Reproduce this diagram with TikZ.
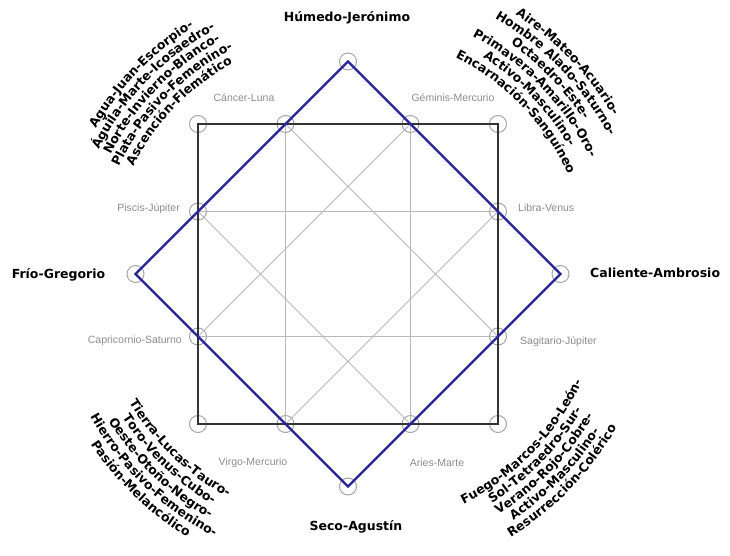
\documentclass[tikz,border=0pt]{standalone}
\usepackage{fontspec}
\usepackage{tikz}
\usepackage{xcolor}
\usetikzlibrary{decorations.text}

\newfontfamily\heavyfont{DejaVu Sans}
\newfontfamily\signfont{Liberation Sans}

\definecolor{diamondblue}{RGB}{35,35,165}
\definecolor{ringgray}{RGB}{165,165,165}
\definecolor{linegray}{RGB}{185,185,185}
\definecolor{signgray}{RGB}{140,140,140}

\newcommand{\arcfont}{\heavyfont\bfseries\fontsize{12.5}{15}\selectfont}
% text on the outside of an arc, read clockwise
\newcommand{\arctextout}[3]{%
  \path[decorate, decoration={text along path, text align=center, text={|\arcfont|#3}}]
    (#1+40:#2) arc[start angle=#1+40, end angle=#1-40, radius=#2];}
% text on the inside of an arc, read counterclockwise
\newcommand{\arctextin}[3]{%
  \path[decorate, decoration={text along path, text align=center, text={|\arcfont|#3}}]
    (#1-40:#2) arc[start angle=#1-40, end angle=#1+40, radius=#2];}

\begin{document}
\begin{tikzpicture}[x=1pt, y=1pt,
    ring/.style={circle, draw=ringgray, line width=1pt, minimum size=17pt, inner sep=0pt},
    gridline/.style={draw=linegray, line width=0.9pt},
    frame/.style={draw=black!80, line width=1.8pt},
    rhomb/.style={draw=diamondblue, line width=2.4pt, line join=miter},
    sign/.style={text=signgray, inner sep=0pt, font=\signfont\fontsize{10.5}{12}\selectfont},
    season/.style={inner sep=0pt, font=\heavyfont\bfseries\fontsize{12.5}{15}\selectfont}]

    \useasboundingbox (-348,-282) rectangle (382,274);

    % Draw rings at the corners, crossings and tips
    \foreach \name/\x/\y in {sqNW/-150/150, sqNE/150/150, sqSE/150/-150, sqSW/-150/-150,
        cancer/-62.5/150, geminis/62.5/150, libra/150/62.5, sagitario/150/-62.5,
        aries/62.5/-150, virgo/-62.5/-150, capricornio/-150/-62.5, piscis/-150/62.5,
        humedo/0/212.5, caliente/212.5/0, seco/0/-212.5, frio/-212.5/0}
    {
        \node[ring] (\name) at (\x,\y) {};
    }

    % Grey lines between the crossings
    \foreach \a/\b in {cancer/virgo, geminis/aries, piscis/libra, capricornio/sagitario,
        cancer/sagitario, geminis/capricornio, piscis/aries, libra/virgo}
    {
        \draw[gridline] (\a.center) -- (\b.center);
    }

    % Square and diamond
    \draw[frame] (sqNW.center) -- (sqNE.center) -- (sqSE.center) -- (sqSW.center) -- cycle;
    \draw[rhomb] (humedo.center) -- (caliente.center) -- (seco.center) -- (frio.center) -- cycle;

    % Sign labels
    \node[sign] (cancerLabel) at (-104,176) {Cáncer-Luna};
    \node[sign] (geminisLabel) at (105,176) {Géminis-Mercurio};
    \node[sign, anchor=east] (piscisLabel) at (-168,65) {Piscis-Júpiter};
    \node[sign, anchor=east] (capricornioLabel) at (-166,-67) {Capricornio-Saturno};
    \node[sign, anchor=west] (libraLabel) at (170,66) {Libra-Venus};
    \node[sign, anchor=west] (sagitarioLabel) at (172,-68) {Sagitario-Júpiter};
    \node[sign] (virgoLabel) at (-95,-189) {Virgo-Mercurio};
    \node[sign] (ariesLabel) at (89,-189) {Aries-Marte};

    % Season labels
    \node[season] (humedoLabel) at (-1,256) {Húmedo-Jerónimo};
    \node[season] (secoLabel) at (8,-253) {Seco-Agustín};
    \node[season] (frioLabel) at (-289.5,-1) {Frío-Gregorio};
    \node[season, anchor=west] (calienteLabel) at (242,1) {Caliente-Ambrosio};

    % Arched texts, upper left
    \arctextout{136}{291}{Agua-Juan-Escorpio-}
    \arctextout{136}{278.25}{Águila-Marte-Icosaedro-}
    \arctextout{136}{265.5}{Norte-Invierno-Blanco-}
    \arctextout{136}{252.75}{Plata-Pasivo-Femenino-}
    \arctextout{136}{240}{Ascención-Flemático}

    % Arched texts, upper right
    \arctextout{44}{308.5}{Aire-Mateo-Acuario-}
    \arctextout{44}{295.1}{Hombre Alado-Saturno-}
    \arctextout{44}{281.7}{Octaedro-Este-}
    \arctextout{44}{268.3}{Primavera-Amarillo-Oro-}
    \arctextout{44}{254.9}{Activo-Masculino-}
    \arctextout{44}{241.5}{Encarnación-Sanguíneo}

    % Arched texts, lower left
    \arctextin{226}{253.5}{Tierra-Lucas-Tauro-}
    \arctextin{226}{267.25}{Toro-Venus-Cubo-}
    \arctextin{226}{281}{Oeste-Otoño-Negro-}
    \arctextin{226}{294.75}{Hierro-Pasivo-Femenino-}
    \arctextin{226}{308.5}{Pasión-Melancólico}

    % Arched texts, lower right
    \arctextin{316}{257.5}{Fuego-Marcos-Leo-León-}
    \arctextin{316}{270.5}{Sol-Tetraedro-Sur-}
    \arctextin{316}{283.5}{Verano-Rojo-Cobre-}
    \arctextin{316}{296.5}{Activo-Masculino-}
    \arctextin{316}{309.5}{Resurrección-Colérico}
\end{tikzpicture}
\end{document}
